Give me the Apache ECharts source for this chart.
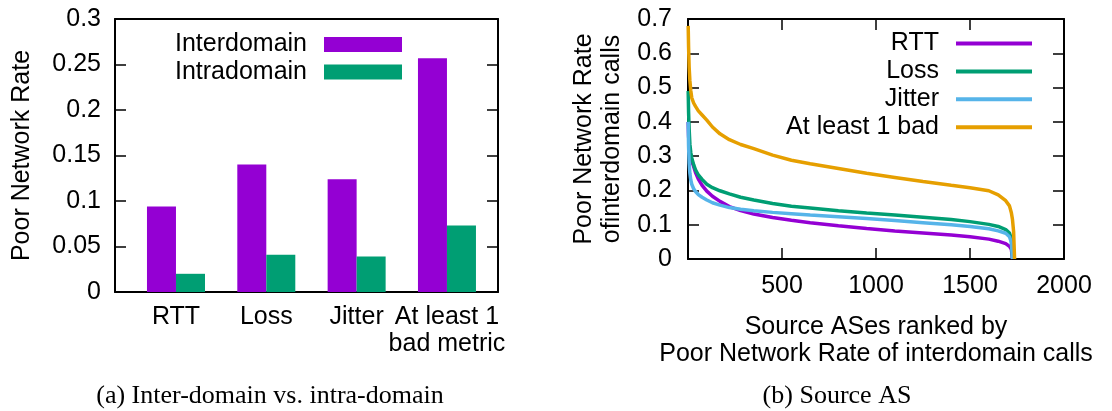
<!DOCTYPE html>
<html>
<head>
<meta charset="utf-8">
<script src="https://cdn.jsdelivr.net/npm/echarts@6/dist/echarts.min.js"></script>
<style>
  html, body { margin: 0; padding: 0; background: #fff; }
  #wrap { position: relative; width: 1112px; height: 411px; }
  #chart { position: absolute; left: 0; top: 0; width: 1112px; height: 411px; }
  #overlay { position: absolute; left: 0; top: 0; width: 1112px; height: 411px; pointer-events: none; }
  #overlay div { position: absolute; color: #000; white-space: nowrap; }
</style>
</head>
<body>
<div id="wrap"><div id="chart"></div><div id="overlay"></div></div>
<script>
// ---- (a) bar chart data ----
const barCategories = ['RTT', 'Loss', 'Jitter', 'At least 1\nbad metric'];
const interdomain = [0.094, 0.140, 0.124, 0.257];
const intradomain = [0.020, 0.041, 0.039, 0.073];
const barYTicks = [0, 0.05, 0.1, 0.15, 0.2, 0.25, 0.3];

// ---- (b) line chart data (rank of source AS -> poor network rate) ----
const ranks = [1, 3, 6, 10, 15, 20, 30, 40, 55, 75, 100, 130, 170, 220, 280, 350, 450, 550, 650, 800, 950, 1100, 1250, 1400, 1500, 1600, 1650, 1690, 1710, 1720, 1726, 1732, 1737];
const rttRate    = [0.40, 0.36, 0.33, 0.31, 0.295, 0.287, 0.27, 0.252, 0.233, 0.215, 0.198, 0.183, 0.168, 0.153, 0.141, 0.131, 0.121, 0.113, 0.106, 0.097, 0.089, 0.082, 0.076, 0.070, 0.065, 0.058, 0.052, 0.045, 0.037, 0.028, 0.0, null, null];
const lossRate   = [0.49, 0.43, 0.38, 0.335, 0.31, 0.295, 0.275, 0.26, 0.245, 0.232, 0.218, 0.208, 0.199, 0.19, 0.18, 0.172, 0.162, 0.154, 0.149, 0.141, 0.134, 0.128, 0.122, 0.115, 0.109, 0.101, 0.095, 0.086, 0.076, 0.058, 0.0, null, null];
const jitterRate = [0.40, 0.33, 0.28, 0.25, 0.23, 0.218, 0.205, 0.197, 0.188, 0.18, 0.172, 0.164, 0.157, 0.150, 0.145, 0.141, 0.136, 0.132, 0.128, 0.123, 0.118, 0.112, 0.106, 0.100, 0.095, 0.088, 0.082, 0.075, 0.065, 0.048, 0.0, null, null];
const anyBadRate = [0.68, 0.62, 0.56, 0.52, 0.49, 0.47, 0.455, 0.445, 0.432, 0.42, 0.405, 0.385, 0.365, 0.348, 0.334, 0.322, 0.303, 0.288, 0.278, 0.264, 0.250, 0.238, 0.226, 0.215, 0.208, 0.199, 0.187, 0.170, 0.155, 0.135, 0.115, 0.08, 0.0];
const lineNames = ['RTT', 'Loss', 'Jitter', 'At least 1 bad'];

const SANS = 'Liberation Sans, Arial, Helvetica, sans-serif';
const SERIF = 'Liberation Serif, Times New Roman, serif';
const FS = 25;
const PURPLE = '#9400D3', GREEN = '#009E73', BLUE = '#56B4E9', ORANGE = '#E69F00';
const lineColors = [PURPLE, GREEN, BLUE, ORANGE];
const lineValues = [rttRate, lossRate, jitterRate, anyBadRate];

function pairs(xs, ys) {
  const out = [];
  for (let i = 0; i < xs.length; i++) if (ys[i] !== null && ys[i] !== undefined) out.push([xs[i], ys[i]]);
  return out;
}

const frameLine = () => ({ show: true, onZero: false, lineStyle: { color: '#000', width: 2 } });
const tickStyle = () => ({ show: true, inside: true, length: 11, lineStyle: { color: '#000', width: 1.5 } });

// f: M mirrored axes, X custom formatters, F font family, T titles, L second legend, N names of (b)
function buildOption(f) {
  const fam = f.F ? { fontFamily: SANS } : {};
  const lab = extra => Object.assign({ fontSize: FS, color: '#000' }, fam, extra || {});
  const xAxes = [], yAxes = [];
  xAxes.push({ type: 'value', gridIndex: 0, min: -0.675, max: 3.565, position: 'bottom',
    axisLine: frameLine(), axisTick: { show: false }, splitLine: { show: false },
    axisLabel: lab({ customValues: [0, 1, 2, 3], formatter: v => barCategories[Math.round(v)], margin: 12, lineHeight: 27 }) });
  if (f.M) xAxes.push({ type: 'value', gridIndex: 0, min: -0.675, max: 3.565, position: 'top',
    axisLine: frameLine(), axisTick: { show: false }, splitLine: { show: false }, axisLabel: { show: false } });
  const xB = { type: 'value', gridIndex: 1, min: 0, max: 2000, interval: 500, position: 'bottom',
    axisLine: frameLine(), axisTick: tickStyle(), splitLine: { show: false },
    axisLabel: lab(f.X ? { formatter: v => (v === 0 ? '' : String(v)), margin: 15 } : { margin: 15 }) };
  if (f.N) Object.assign(xB, { name: 'Source ASes ranked by\nPoor Network Rate of interdomain calls',
    nameLocation: 'middle', nameGap: 55, nameTextStyle: lab({ lineHeight: 27 }) });
  const xBIndex = xAxes.length;
  xAxes.push(xB);
  if (f.M) xAxes.push({ type: 'value', gridIndex: 1, position: 'top', min: 0, max: 2000, interval: 500,
    axisLine: frameLine(), axisTick: tickStyle(), splitLine: { show: false }, axisLabel: { show: false } });

  yAxes.push({ type: 'value', gridIndex: 0, min: 0, max: 0.3, interval: 0.05, position: 'left',
    name: 'Poor Network Rate', nameLocation: 'middle', nameGap: 80, nameTextStyle: lab(),
    axisLine: frameLine(), axisTick: tickStyle(), splitLine: { show: false },
    axisLabel: lab(f.X ? { margin: 14, formatter: v => String(barYTicks.reduce((a, b) => Math.abs(b - v) < Math.abs(a - v) ? b : a)) } : { margin: 14 }) });
  if (f.M) yAxes.push({ type: 'value', gridIndex: 0, position: 'right', min: 0, max: 0.3, interval: 0.05,
    axisLine: frameLine(), axisTick: tickStyle(), splitLine: { show: false }, axisLabel: { show: false } });
  const yL = { type: 'value', gridIndex: 1, min: 0, max: 0.7, interval: 0.1, position: 'left',
    axisLine: frameLine(), axisTick: tickStyle(), splitLine: { show: false },
    axisLabel: lab(f.X ? { margin: 16, formatter: v => String(Math.round(v * 10) / 10) } : { margin: 16 }) };
  if (f.N) Object.assign(yL, { name: 'Poor Network Rate\nofinterdomain calls', nameLocation: 'middle', nameGap: 62,
    nameTextStyle: lab({ lineHeight: 28 }) });
  const yLIndex = yAxes.length;
  yAxes.push(yL);
  if (f.M) yAxes.push({ type: 'value', gridIndex: 1, position: 'right', min: 0, max: 0.7, interval: 0.1,
    axisLine: frameLine(), axisTick: tickStyle(), splitLine: { show: false }, axisLabel: { show: false } });

  const legends = [{ data: ['Interdomain', 'Intradomain'], orient: 'vertical', align: 'right',
    right: 710, top: 32, itemWidth: 78, itemHeight: 15, itemGap: 2.6, icon: 'rect', padding: 0,
    textStyle: { fontFamily: SANS, fontSize: FS, color: '#000', lineHeight: 24, padding: [0, 12, 0, 0] } }];
  if (f.L) legends.push({ data: lineNames, orient: 'vertical', align: 'right',
    right: 80, top: 31, itemWidth: 76, itemHeight: 4, itemGap: 2.9, icon: 'rect', padding: 0,
    textStyle: { fontFamily: SANS, fontSize: FS, color: '#000', lineHeight: 24, padding: [0, 12, 0, 0] } });

  const series = [
    { name: 'Interdomain', type: 'bar', xAxisIndex: 0, yAxisIndex: 0, barWidth: 29, barGap: '0%',
      itemStyle: { color: PURPLE }, data: interdomain.map((v, i) => [i, v]) },
    { name: 'Intradomain', type: 'bar', xAxisIndex: 0, yAxisIndex: 0, barWidth: 29, barGap: '0%',
      itemStyle: { color: GREEN }, data: intradomain.map((v, i) => [i, v]) }
  ];
  lineNames.forEach((nm, k) => series.push({ name: nm, type: 'line', xAxisIndex: xBIndex, yAxisIndex: yLIndex,
    symbol: 'none', itemStyle: { color: lineColors[k] }, lineStyle: { color: lineColors[k], width: 3.5 },
    data: pairs(ranks, lineValues[k]) }));

  const opt = {
    animation: false,
    legend: legends,
    grid: [
      { left: 115, top: 19, width: 383, height: 273, show: !f.M, borderColor: '#000', borderWidth: 2 },
      { left: 688, top: 19, width: 376, height: 240, show: !f.M, borderColor: '#000', borderWidth: 2 }
    ],
    xAxis: xAxes, yAxis: yAxes, series: series
  };
  if (f.T) opt.title = [
    { text: '(a) Inter-domain vs. intra-domain', left: 270, top: 383, textAlign: 'center', padding: 0,
      textStyle: { fontFamily: SERIF, fontSize: 26, fontWeight: 'normal', color: '#000' } },
    { text: '(b) Source AS', left: 837, top: 383, textAlign: 'center', padding: 0,
      textStyle: { fontFamily: SERIF, fontSize: 26, fontWeight: 'normal', color: '#000' } }
  ];
  return opt;
}

function overlayFor(f) {
  const ov = document.getElementById('overlay');
  ov.innerHTML = '';
  const add = (css, html) => { const d = document.createElement('div'); d.style.cssText = css; d.innerHTML = html; ov.appendChild(d); };
  if (!f.T) {
    add('left:70px;width:400px;top:381px;text-align:center;font:26px ' + SERIF + ';', '(a) Inter-domain vs. intra-domain');
    add('left:637px;width:400px;top:381px;text-align:center;font:26px ' + SERIF + ';', '(b) Source AS');
  }
  if (!f.L) {
    lineNames.forEach((nm, k) => {
      const cy = 43.3 + 26.9 * k;
      add('right:' + (1112 - 938.5) + 'px;top:' + (cy - 14) + 'px;line-height:28px;font:25px ' + SANS + ';', nm);
      add('left:956px;width:76px;height:4px;top:' + (cy - 2) + 'px;background:' + lineColors[k] + ';', '');
    });
  }
  if (!f.N) {
    add('left:626px;width:500px;top:313px;text-align:center;font:25px/27px ' + SANS + ';', 'Source ASes ranked by<br>Poor Network Rate of interdomain calls');
    add('left:477.5px;width:240px;top:111px;height:56px;text-align:center;font:25px/28px ' + SANS + ';transform:rotate(-90deg);transform-origin:50% 50%;', 'Poor Network Rate<br>ofinterdomain calls');
  }
}

const chart = echarts.init(document.getElementById('chart'));

function darkAt(x, y) {
  const dpr = window.devicePixelRatio || 1;
  const cvs = chart.getDom().getElementsByTagName('canvas');
  for (let c = 0; c < cvs.length; c++) {
    try {
      const d = cvs[c].getContext('2d').getImageData(Math.round((x - 2) * dpr), Math.round((y - 2) * dpr), 5, 5).data;
      for (let i = 0; i < d.length; i += 4) if (d[i + 3] > 128 && d[i] + d[i + 1] + d[i + 2] < 200) return true;
    } catch (e) {}
  }
  return false;
}

function tryRender(f) {
  try {
    chart.setOption(buildOption(f), { notMerge: true });
    chart.getZr().refreshImmediately();
    return darkAt(115, 150) && darkAt(876, 259) && darkAt(498, 150);
  } catch (e) { return false; }
}

const FEATURES = ['M', 'X', 'F', 'T', 'L', 'N'];
function combos(arr, k) {
  if (k === 0) return [[]];
  const out = [];
  for (let i = 0; i <= arr.length - k; i++) combos(arr.slice(i + 1), k - 1).forEach(c => out.push([arr[i]].concat(c)));
  return out;
}
let chosen = null;
outer:
for (let k = 0; k <= FEATURES.length; k++) {
  for (const drop of combos(FEATURES, k)) {
    const f = {};
    FEATURES.forEach(n => { f[n] = drop.indexOf(n) < 0; });
    if (tryRender(f)) { chosen = f; break outer; }
  }
}
if (!chosen) {
  chosen = { M: true, X: true, F: true, T: true, L: true, N: true };
  chart.setOption(buildOption(chosen), { notMerge: true });
}
overlayFor(chosen);
</script>
</body>
</html>
